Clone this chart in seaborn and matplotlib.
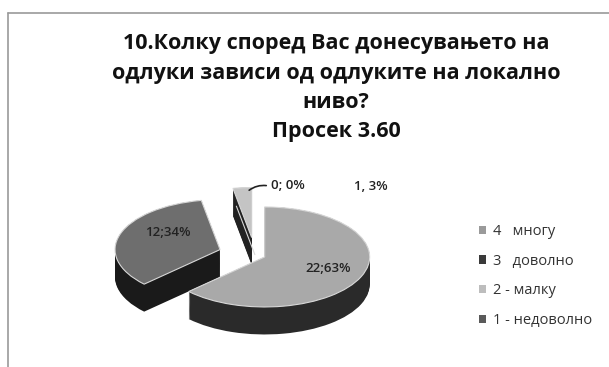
import numpy as np
import matplotlib
matplotlib.use("Agg")
import matplotlib.pyplot as plt
from matplotlib.patches import Patch
from matplotlib.lines import Line2D
import seaborn as sns

sns.set_theme(style="white")
plt.rcParams['font.family'] = ['Open Sans', 'DejaVu Sans']

# ---- data ----
categories = ['4   многу', '3   доволно', '2 - малку', '1 - недоволно']
counts = [22, 12, 0, 1]
percents = [63, 34, 0, 3]
data_labels = ['22;63%', '12;34%', '0; 0%', '1, 3%']
title_lines = ['10.Колку според Вас донесувањето на',
               'одлуки зависи од одлуките на локално',
               'ниво?',
               'Просек 3.60']

top_colors = ['#a9a9a9', '#6e6e6e', '#c9c9c9', '#c4c4c4']
side_colors = ['#2a2a2a', '#1a1a1a', '#3a3a3a', '#222222']
legend_colors = ['#9a9a9a', '#3a3a3a', '#bdbdbd', '#5a5a5a']
explode = [0.1, 0.35, 0.0, 0.35]

W, H = 609, 367
fig = plt.figure(figsize=(W / 100, H / 100), dpi=100)
fig.patch.set_facecolor('white')
ax = fig.add_axes([0, 0, 1, 1])

CX, CY, RX, RY = 255, 255, 105, 50   # pixel centre and radii of the pie ellipse


def px(x, y):
    return (x - CX) / RX, (CY - y) / RY


depth = 0.55
for d in np.linspace(depth, 0.0, 30):
    ax.pie(counts, explode=explode, colors=side_colors, startangle=90,
           counterclock=False, center=(0, -d),
           wedgeprops=dict(linewidth=0))
ax.pie(counts, explode=explode, colors=top_colors, startangle=90,
       counterclock=False, center=(0, 0),
       wedgeprops=dict(linewidth=0.8, edgecolor='#d8d8d8'))

ax.set_aspect('auto')
ax.set_xlim(-CX / RX, (W - CX) / RX)
ax.set_ylim(-(H - CY) / RY, CY / RY)
ax.axis('off')

# data labels
lab_pos = [(328, 268), (168, 233), (288, 186), (371, 187)]
for txt, (x, y) in zip(data_labels, lab_pos):
    ax.text(*px(x, y), txt, ha='center', va='center', fontsize=9.5,
            color='#222222', fontweight='semibold')
ax.annotate('', xy=px(247, 192), xytext=px(269, 186),
            arrowprops=dict(arrowstyle='-', color='#222222', lw=1.2,
                            connectionstyle='arc3,rad=0.25'))

# title
title_y = [43, 73, 102, 132]
for line, y in zip(title_lines, title_y):
    fig.text(336 / W, 1 - y / H, line, ha='center', va='center',
             fontsize=15.5, fontweight='bold', color='#111111')

# legend
handles = [Patch(facecolor=c, edgecolor='none') for c in legend_colors]
fig.legend(handles, categories, loc='upper left',
           bbox_to_anchor=(466 / W, 1 - 211 / H), frameon=False,
           fontsize=10.5, handlelength=0.5, handleheight=0.5,
           handletextpad=0.45, labelspacing=1.0, labelcolor='#333333')

# chart frame lines
fig.add_artist(Line2D([8 / W, 1], [1 - 13 / H, 1 - 13 / H], color='#9a9a9a', lw=1.2))
fig.add_artist(Line2D([8 / W, 8 / W], [0, 1 - 13 / H], color='#9a9a9a', lw=1.2))

fig.savefig('out.png', dpi=100, facecolor='white')
